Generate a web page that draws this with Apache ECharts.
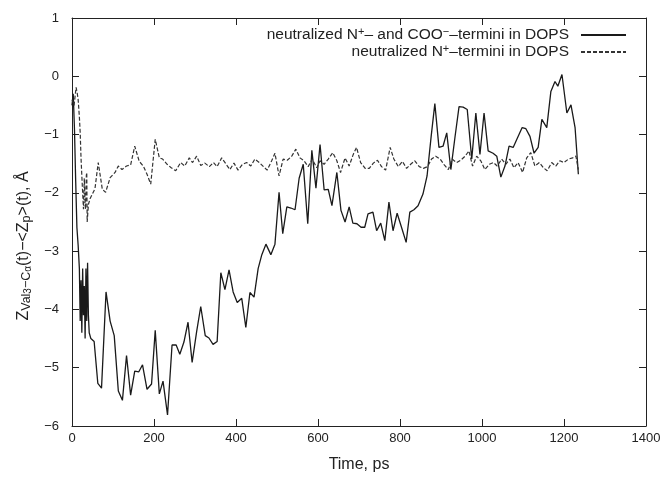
<!DOCTYPE html>
<html>
<head>
<meta charset="utf-8">
<script src="https://cdn.jsdelivr.net/npm/echarts@6/dist/echarts.min.js"></script>
<style>
  html, body { margin: 0; padding: 0; background: #fff; }
  #chart { width: 668px; height: 478px; }
</style>
</head>
<body>
<div id="chart"></div>
<script>
// neutralized N+ and COO- termini (solid)
const solidTime = [0, 3, 6, 9, 12, 15, 18, 20, 22, 24, 26, 28, 30, 32, 34, 36, 38, 40, 42, 46, 54, 63, 72,
  83, 93, 103, 113, 123, 133, 143, 153, 163, 172, 183, 194, 203, 213, 222, 233, 244, 254, 263, 273, 283, 293,
  304, 314, 325, 334, 344, 354, 363, 373, 383, 393, 403, 414, 424, 434, 444, 454, 463, 473, 485, 495, 505, 514,
  524, 534, 544, 554, 564, 575, 585, 595, 605, 615, 625, 634, 646, 656, 666, 676, 685, 695, 705, 714, 722, 734,
  743, 753, 763, 773, 783, 793, 805, 815, 824, 834, 844, 856, 866, 876, 885, 895, 905, 914, 924, 934, 944, 954,
  964, 975, 985, 995, 1005, 1015, 1027, 1036, 1046, 1056, 1066, 1076, 1085, 1098, 1107, 1117, 1127, 1137, 1146,
  1158, 1168, 1178, 1185, 1195, 1207, 1217, 1227, 1235];
const solidZ = [-0.5, -0.3, -0.9, -1.8, -2.6, -2.9, -3.3, -4.2, -3.5, -4.4, -3.3, -4.1, -3.6, -4.5, -3.3, -4.2, -3.2, -4.1, -4.4, -4.5, -4.55, -5.27, -5.35,
  -3.7, -4.2, -4.45, -5.4, -5.56, -4.79, -5.47, -5.06, -5.07, -4.95, -5.37, -5.28, -4.36, -5.45, -5.23, -5.81, -4.61, -4.61, -4.77, -4.56, -4.22, -4.91,
  -4.38, -3.95, -4.45, -4.49, -4.6, -4.55, -3.37, -3.66, -3.32, -3.7, -3.88, -3.81, -4.31, -3.71, -3.79, -3.3, -3.06, -2.88, -3.06, -2.88, -1.99, -2.7,
  -2.24, -2.26, -2.29, -1.75, -1.51, -2.53, -1.27, -1.92, -1.17, -1.95, -1.94, -2.22, -1.65, -2.3, -2.5, -2.24, -2.52, -2.53, -2.59, -2.59, -2.36, -2.33,
  -2.65, -2.52, -2.82, -2.16, -2.65, -2.35, -2.62, -2.85, -2.33, -2.29, -2.22, -2.02, -1.71, -1.03, -0.47, -1.22, -1.2, -0.97, -1.6, -1.05, -0.52, -0.53,
  -0.57, -1.42, -0.63, -1.34, -0.63, -1.28, -1.32, -1.37, -1.73, -1.54, -1.2, -1.22, -1.08, -0.88, -0.9, -1.03, -1.32, -1.22, -0.74,
  -0.88, -0.26, -0.09, -0.17, 0.03, -0.63, -0.49, -0.88, -1.68];

// neutralized N+ termini only (dashed)
const dashedTime = [0, 5, 10, 13, 15, 18, 20, 22, 24, 26, 28, 30, 32, 33, 35, 36, 37, 40, 44, 56, 64, 74, 82, 93,
  105, 113, 122, 133, 143, 153, 164, 174, 183, 192, 203, 213, 221, 232, 242, 253, 265, 275, 286, 294,
  304, 314, 324, 335, 345, 354, 365, 376, 385, 395, 405, 416, 426, 436, 446, 457, 467, 476, 487, 495, 505, 515,
  525, 536, 546, 556, 566, 576, 586, 597, 605, 615, 625, 636, 646, 655, 666, 676, 686, 694, 704, 715, 725, 735,
  745, 755, 765, 776, 785, 796, 806, 816, 826, 836, 847, 857, 867, 877, 887, 898, 907, 918, 927, 938, 948, 959,
  968, 977, 987, 997, 1007, 1018, 1028, 1037, 1048, 1058, 1068, 1078, 1088, 1099, 1109, 1119, 1129, 1140, 1150,
  1159, 1170, 1180, 1190, 1200, 1211, 1221, 1229, 1235];
const dashedZ = [-0.4, -0.5, -0.19, -0.3, -0.4, -0.7, -0.97, -1.4, -1.71, -2.0, -2.28, -1.75, -2.2, -2.28, -1.7, -1.65, -2.5, -2.2, -2.1, -1.93, -1.48, -1.94, -1.99, -1.74,
  -1.65, -1.54, -1.6, -1.54, -1.52, -1.2, -1.46, -1.54, -1.68, -1.85, -1.08, -1.4, -1.42, -1.51, -1.57, -1.62, -1.48, -1.54, -1.4, -1.48,
  -1.37, -1.53, -1.49, -1.55, -1.48, -1.55, -1.4, -1.51, -1.6, -1.49, -1.61, -1.51, -1.48, -1.54, -1.42, -1.48, -1.55, -1.61, -1.45, -1.32, -1.71, -1.42,
  -1.44, -1.37, -1.25, -1.4, -1.45, -1.55, -1.42, -1.57, -1.45, -1.51, -1.42, -1.31, -1.45, -1.65, -1.4, -1.54, -1.34, -1.22, -1.48, -1.58, -1.58, -1.49,
  -1.44, -1.55, -1.61, -1.22, -1.42, -1.55, -1.46, -1.58, -1.51, -1.45, -1.55, -1.58, -1.55, -1.42, -1.37, -1.42, -1.51, -1.6, -1.42, -1.48, -1.44, -1.37,
  -1.28, -1.54, -1.37, -1.45, -1.6, -1.51, -1.48, -1.54, -1.42, -1.51, -1.42, -1.57, -1.48, -1.65, -1.4, -1.31, -1.54, -1.48, -1.57,
  -1.62, -1.48, -1.54, -1.45, -1.48, -1.42, -1.4, -1.37, -1.6];

const xTicks = { min: 0, max: 1400, interval: 200 };
const yTicks = { min: -6, max: 1, interval: 1 };

const font = "'Liberation Sans', Arial, sans-serif";
const ink = '#222';

const chart = echarts.init(document.getElementById('chart'));

const plain = v => String(v).replace('-', '\u2212');

const axisBase = {
  type: 'value',
  axisLine: { show: true, onZero: false, lineStyle: { color: ink, width: 1 } },
  axisTick: { show: true, inside: true, length: 7, lineStyle: { color: ink, width: 1 } },
  splitLine: { show: false }
};

const legendText = {
  solid: '{a|neutralized N}{sup|+}{a|\u2013 and COO}{sup|\u2212}{a|\u2013termini in DOPS}',
  dashed: '{a|neutralized N}{sup|+}{a|\u2013termini in DOPS}'
};

chart.setOption({
  animation: false,
  backgroundColor: '#fff',
  textStyle: { fontFamily: font, color: ink },
  grid: { left: 72, right: 22, top: 18, bottom: 50, containLabel: false },
  legend: {
    orient: 'vertical',
    right: 36,
    top: 21,
    align: 'right',
    itemWidth: 45,
    itemHeight: 14,
    itemGap: 0,
    data: ['solid', 'dashed'],
    itemStyle: { opacity: 0 },
    formatter: name => legendText[name],
    textStyle: {
      fontFamily: font,
      color: ink,
      padding: [0, 7, 0, 0],
      rich: {
        a: { fontSize: 15.5, fontFamily: font, color: ink, lineHeight: 18 },
        sup: { fontSize: 11, fontFamily: font, color: ink, lineHeight: 10, verticalAlign: 'top', padding: [0, 0, 5, 0] }
      }
    }
  },
  xAxis: [
    Object.assign({}, axisBase, xTicks, {
      position: 'bottom',
      axisLabel: { fontSize: 13, fontFamily: font, color: ink, margin: 6, formatter: plain },
      name: 'Time, ps',
      nameLocation: 'middle',
      nameGap: 31,
      nameTextStyle: { fontSize: 16, fontFamily: font, color: ink }
    }),
    Object.assign({}, axisBase, xTicks, { position: 'top', axisLabel: { show: false } })
  ],
  yAxis: [
    Object.assign({}, axisBase, yTicks, {
      position: 'left',
      axisLabel: { fontSize: 13, fontFamily: font, color: ink, margin: 13, formatter: plain },
      name: '{a|Z}{sub|Val}{sub2|3}{sub|\u2212C}{sub2|\u03b1}{a|(t)\u2212<Z}{sub|p}{a|>(t), \u00c5}',
      nameLocation: 'middle',
      nameRotate: 90,
      nameGap: 38,
      nameTextStyle: {
        fontFamily: font,
        color: ink,
        padding: [0, 48, 0, 0],
        rich: {
          a: { fontSize: 16, fontFamily: font, color: ink, lineHeight: 20 },
          sub: { fontSize: 12.5, fontFamily: font, color: ink, lineHeight: 14, verticalAlign: 'bottom' },
          sub2: { fontSize: 10, fontFamily: font, color: ink, lineHeight: 10, verticalAlign: 'bottom' }
        }
      }
    }),
    Object.assign({}, axisBase, yTicks, { position: 'right', axisLabel: { show: false } })
  ],
  series: [
    {
      name: 'solid',
      type: 'line',
      data: solidTime.map((t, i) => [t, solidZ[i]]),
      showSymbol: false,
      symbol: 'none',
      lineStyle: { color: '#1a1a1a', width: 1.3, type: 'solid' },
      itemStyle: { color: '#1a1a1a' }
    },
    {
      name: 'dashed',
      type: 'line',
      data: dashedTime.map((t, i) => [t, dashedZ[i]]),
      showSymbol: false,
      symbol: 'none',
      lineStyle: { color: '#333', width: 1.2, type: [4, 2] },
      itemStyle: { color: '#333' }
    }
  ]
});
</script>
</body>
</html>
